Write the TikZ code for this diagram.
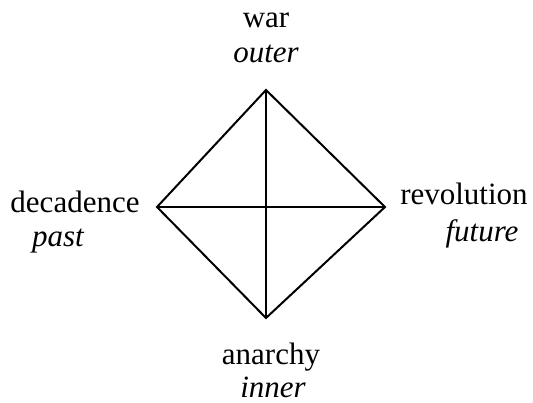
\documentclass[tikz,border=0pt]{standalone}
\usepackage{fontspec}
\setmainfont{Liberation Serif}
\tikzset{
  label/.style={anchor=base, inner sep=0pt, font=\fontsize{31}{37}\selectfont},
  edge/.style={line width=2pt, line join=miter}
}

\begin{document}
\begin{tikzpicture}[x=1pt, y=-1pt]
        \useasboundingbox (0,0) rectangle (533,403);
        % Sommets du losange
        \coordinate (top) at (266,90);
        \coordinate (bottom) at (266,318);
        \coordinate (left) at (157,207);
        \coordinate (right) at (385,207);
        % Contour et diagonales
        \draw[edge] (top) -- (right) -- (bottom) -- (left) -- cycle;
        \draw[edge] (top) -- (bottom);
        \draw[edge] (left) -- (right);
        % Etiquettes
        \node[label] (war) at (266,28) {war};
        \node[label] (outer) at (266,63) {\itshape outer};
        \node[label] (decadence) at (75,213) {decadence};
        \node[label] (past) at (58,247) {\itshape past};
        \node[label] (revolution) at (464,205) {revolution};
        \node[label] (future) at (482,242) {\itshape future};
        \node[label] (anarchy) at (271,365) {anarchy};
        \node[label] (inner) at (273,397) {\itshape inner};
    \end{tikzpicture}
\end{document}
